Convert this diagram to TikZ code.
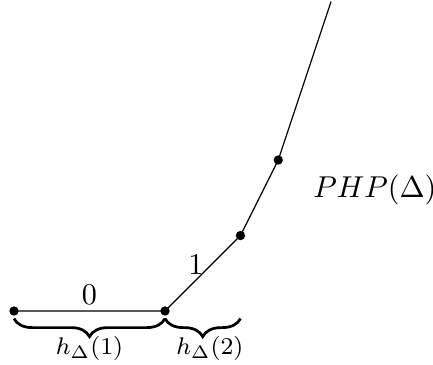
\documentclass[tikz,border=0pt]{standalone}
\usetikzlibrary{decorations.pathreplacing}
\begin{document}
\begin{tikzpicture}[
      x=0.44cm, y=0.44cm,
      dot/.style={circle,fill,inner sep=0pt,minimum size=3.1pt},
      hbrace/.style={decorate,decoration={brace,mirror,amplitude=6pt},line width=0.9pt},
      hlabel/.style={font=\footnotesize}
    ]
    \useasboundingbox (-0.371,-1.404) rectangle (11.1,8.24);
    \node[dot] (p0) at (0,0) {};
    \node[dot] (p1) at (4,0) {};
    \node[dot] (p2) at (6,2) {};
    \node[dot] (p3) at (7,4) {};
    \coordinate (top) at (8.4,8.2);
    \draw (p0.center) -- (p1.center) -- (p2.center) -- (p3.center) -- (top);
    \node (zero) at (2,0.42) {$0$};
    \node (one) at (4.82,1.22) {$1$};
    \node (php) at (9.56,3.2) {$PHP(\Delta)$};
    % braces under the first two pieces
    \draw[hbrace] ([yshift=-2.5pt]p0.center) -- ([yshift=-2.5pt]p1.center);
    \draw[hbrace] ([yshift=-2.5pt]p1.center) -- ([yshift=-2.5pt]p2.center |- p1.center);
    \node[hlabel] (h1) at (2,-1.0) {$h_\Delta(1)$};
    \node[hlabel] (h2) at (5.19,-1.0) {$h_\Delta(2)$};
\end{tikzpicture}
\end{document}
